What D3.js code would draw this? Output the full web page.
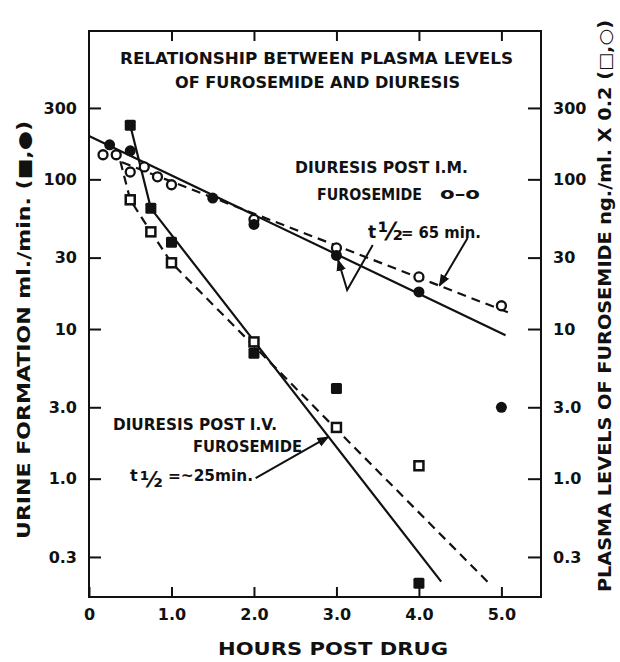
<!DOCTYPE html>
<html>
<head>
<meta charset="utf-8">
<script src="https://cdn.jsdelivr.net/npm/d3@7"></script>
<style>
  body { margin: 0; background: #fff; }
  svg text { font-family: "DejaVu Sans", sans-serif; font-weight: bold; fill: #111; }
</style>
</head>
<body>
<svg id="chart" width="620" height="662"></svg>
<script>
// tick values / labels
const xTicks = [0, 1, 2, 3, 4, 5];
const xTickLabels = ["0", "1.0", "2.0", "3.0", "4.0", "5.0"];
const yTicks = [0.3, 1, 3, 10, 30, 100, 300];
const yTickLabels = ["0.3", "1.0", "3.0", "10", "30", "100", "300"];

// I.V. furosemide: urine (filled squares) and plasma (open squares)
const ivUrineHours = [0.5, 0.75, 1.0, 2.0, 3.0, 4.0];
const ivUrine = [230, 64, 38, 6.9, 4.0, 0.20];
const ivPlasmaHours = [0.5, 0.75, 1.0, 2.0, 3.0, 4.0];
const ivPlasma = [73, 44.6, 27.7, 8.2, 2.2, 1.22];

// I.M. furosemide: urine (filled circles) and plasma (open circles)
const imUrineHours = [0.25, 0.5, 1.5, 2.0, 3.0, 4.0, 5.0];
const imUrine = [170, 155, 75, 50, 31, 17.7, 3.0];
const imPlasmaHours = [0.17, 0.33, 0.5, 0.67, 0.83, 1.0, 2.0, 3.0, 4.0, 5.0];
const imPlasma = [146, 146, 112, 121, 104, 92, 54, 34.8, 22.3, 14.3];

// fitted lines
const ivUrineFitHours = [0.5, 0.75, 4.27];
const ivUrineFit = [230, 64, 0.205];
const ivPlasmaFitHours = [0.38, 0.5, 0.75, 1.0, 4.85];
const ivPlasmaFit = [132, 73, 44.6, 27.7, 0.2];
const imUrineFitHours = [0, 5.05];
const imUrineFit = [195, 9.1];
const imPlasmaFitHours = [0.4, 5.1];
const imPlasmaFit = [130, 12.8];

const svg = d3.select('#chart');
const plotLeft = 89, plotRight = 541, plotTop = 31, plotBottom = 597;

const x = d3.scaleLinear().domain([0, 5.48]).range([plotLeft, plotRight]);
const y = d3.scaleLog().domain([0.162, 980]).range([plotBottom, plotTop]);

const zip = (xs, ys) => xs.map((h, i) => [h, ys[i]]);

// frame
svg.append('rect')
  .attr('x', plotLeft).attr('y', plotTop)
  .attr('width', plotRight - plotLeft).attr('height', plotBottom - plotTop)
  .attr('fill', 'none').attr('stroke', '#111').attr('stroke-width', 2);

function styleAxis(g) {
  g.select('.domain').remove();
  g.selectAll('line').attr('stroke', '#111').attr('stroke-width', 2);
  g.selectAll('text').attr('font-size', 16).attr('font-family', '"DejaVu Sans", sans-serif')
    .attr('font-weight', 'bold').attr('fill', '#111');
}

svg.append('g')
  .attr('transform', `translate(0,${plotBottom})`)
  .call(d3.axisBottom(x).tickValues(xTicks).tickSizeInner(-10).tickSizeOuter(0).tickPadding(12)
    .tickFormat((d, i) => xTickLabels[i]))
  .call(styleAxis);

svg.append('g')
  .attr('transform', `translate(0,${plotTop})`)
  .call(d3.axisTop(x).tickValues(xTicks.slice(1)).tickSizeInner(-10).tickSizeOuter(0).tickFormat(''))
  .call(styleAxis);

svg.append('g')
  .attr('transform', `translate(${plotLeft},0)`)
  .call(d3.axisLeft(y).tickValues(yTicks).tickSizeInner(-12).tickSizeOuter(0).tickPadding(12)
    .tickFormat((d, i) => yTickLabels[i]))
  .call(styleAxis);

svg.append('g')
  .attr('transform', `translate(${plotRight},0)`)
  .call(d3.axisRight(y).tickValues(yTicks).tickSizeInner(-13).tickSizeOuter(0).tickPadding(12)
    .tickFormat((d, i) => yTickLabels[i]))
  .call(styleAxis);

// fitted lines
const line = d3.line().x(d => x(d[0])).y(d => y(d[1]));
const fits = [
  { pts: zip(ivUrineFitHours, ivUrineFit), dash: null },
  { pts: zip(ivPlasmaFitHours, ivPlasmaFit), dash: '9,6' },
  { pts: zip(imUrineFitHours, imUrineFit), dash: null },
  { pts: zip(imPlasmaFitHours, imPlasmaFit), dash: '9,6' }
];
svg.append('g').selectAll('path')
  .data(fits)
  .join('path')
  .attr('d', d => line(d.pts))
  .attr('fill', 'none')
  .attr('stroke', '#111')
  .attr('stroke-width', 2.2)
  .attr('stroke-dasharray', d => d.dash);

// markers
const sq = 11;
svg.append('g').selectAll('rect')
  .data(zip(ivPlasmaHours, ivPlasma))
  .join('rect')
  .attr('x', d => x(d[0]) - sq / 2 + 1).attr('y', d => y(d[1]) - sq / 2 + 1)
  .attr('width', sq - 2).attr('height', sq - 2)
  .attr('fill', '#fff').attr('stroke', '#111').attr('stroke-width', 2.5);

svg.append('g').selectAll('rect')
  .data(zip(ivUrineHours, ivUrine))
  .join('rect')
  .attr('x', d => x(d[0]) - sq / 2).attr('y', d => y(d[1]) - sq / 2)
  .attr('width', sq).attr('height', sq)
  .attr('rx', 1.5)
  .attr('fill', '#111');

svg.append('g').selectAll('circle')
  .data(zip(imPlasmaHours, imPlasma))
  .join('circle')
  .attr('cx', d => x(d[0])).attr('cy', d => y(d[1]))
  .attr('r', 4.5)
  .attr('fill', '#fff').attr('stroke', '#111').attr('stroke-width', 2.3);

svg.append('g').selectAll('circle')
  .data(zip(imUrineHours, imUrine))
  .join('circle')
  .attr('cx', d => x(d[0])).attr('cy', d => y(d[1]))
  .attr('r', 5.5)
  .attr('fill', '#111');

// arrows
svg.append('defs').append('marker')
  .attr('id', 'head')
  .attr('viewBox', '0 0 10 10')
  .attr('refX', 9).attr('refY', 5)
  .attr('markerWidth', 6).attr('markerHeight', 6)
  .attr('orient', 'auto-start-reverse')
  .attr('markerUnits', 'strokeWidth')
  .append('path').attr('d', 'M0,1 L10,5 L0,9 Z').attr('fill', '#111');

const arrows = [
  [[3.44, 36.4], [3.13, 18.2], [3.02, 28.9]],
  [[4.59, 40.6], [4.25, 19.5]],
  [[2.02, 1.01], [2.90, 1.90]]
];
svg.append('g').selectAll('path')
  .data(arrows)
  .join('path')
  .attr('d', d => line(d))
  .attr('fill', 'none')
  .attr('stroke', '#111')
  .attr('stroke-width', 2)
  .attr('marker-end', 'url(#head)');

// text
function txt(s, px, py, size, len, anchor) {
  const t = svg.append('text')
    .attr('x', px).attr('y', py)
    .attr('font-size', size)
    .attr('text-anchor', anchor || 'start')
    .text(s);
  if (len) t.attr('textLength', len).attr('lengthAdjust', 'spacingAndGlyphs');
  return t;
}

txt('RELATIONSHIP BETWEEN PLASMA LEVELS', 120, 64, 16, 393);
txt('OF FUROSEMIDE AND DIURESIS', 175, 88, 16, 285);

txt('DIURESIS POST I.M.', 295, 173, 16, 173);
txt('FUROSEMIDE', 317, 200, 16, 105);
txt('o–o', 440, 199, 15, 40);
txt('t', 368, 238, 17);
txt('½', 378, 240, 24);
txt('= 65 min.', 401, 238, 16, 80);

txt('DIURESIS POST I.V.', 113, 430, 16, 164);
txt('FUROSEMIDE', 193, 452, 16, 109);
txt('t', 130, 481, 16);
txt('½', 140, 487, 22);
txt('=~25min.', 168, 481, 16, 85);

txt('HOURS POST DRUG', 218, 655, 18, 230);

svg.append('text')
  .attr('transform', 'translate(30,330) rotate(-90)')
  .attr('text-anchor', 'middle')
  .attr('font-size', 17)
  .attr('textLength', 418).attr('lengthAdjust', 'spacingAndGlyphs')
  .text('URINE FORMATION ml./min. (■,●)');

svg.append('text')
  .attr('transform', 'translate(611,306) rotate(-90)')
  .attr('text-anchor', 'middle')
  .attr('font-size', 17)
  .attr('textLength', 572).attr('lengthAdjust', 'spacingAndGlyphs')
  .text('PLASMA LEVELS OF FUROSEMIDE ng./ml. X 0.2 (□,○)');
</script>
</body>
</html>
